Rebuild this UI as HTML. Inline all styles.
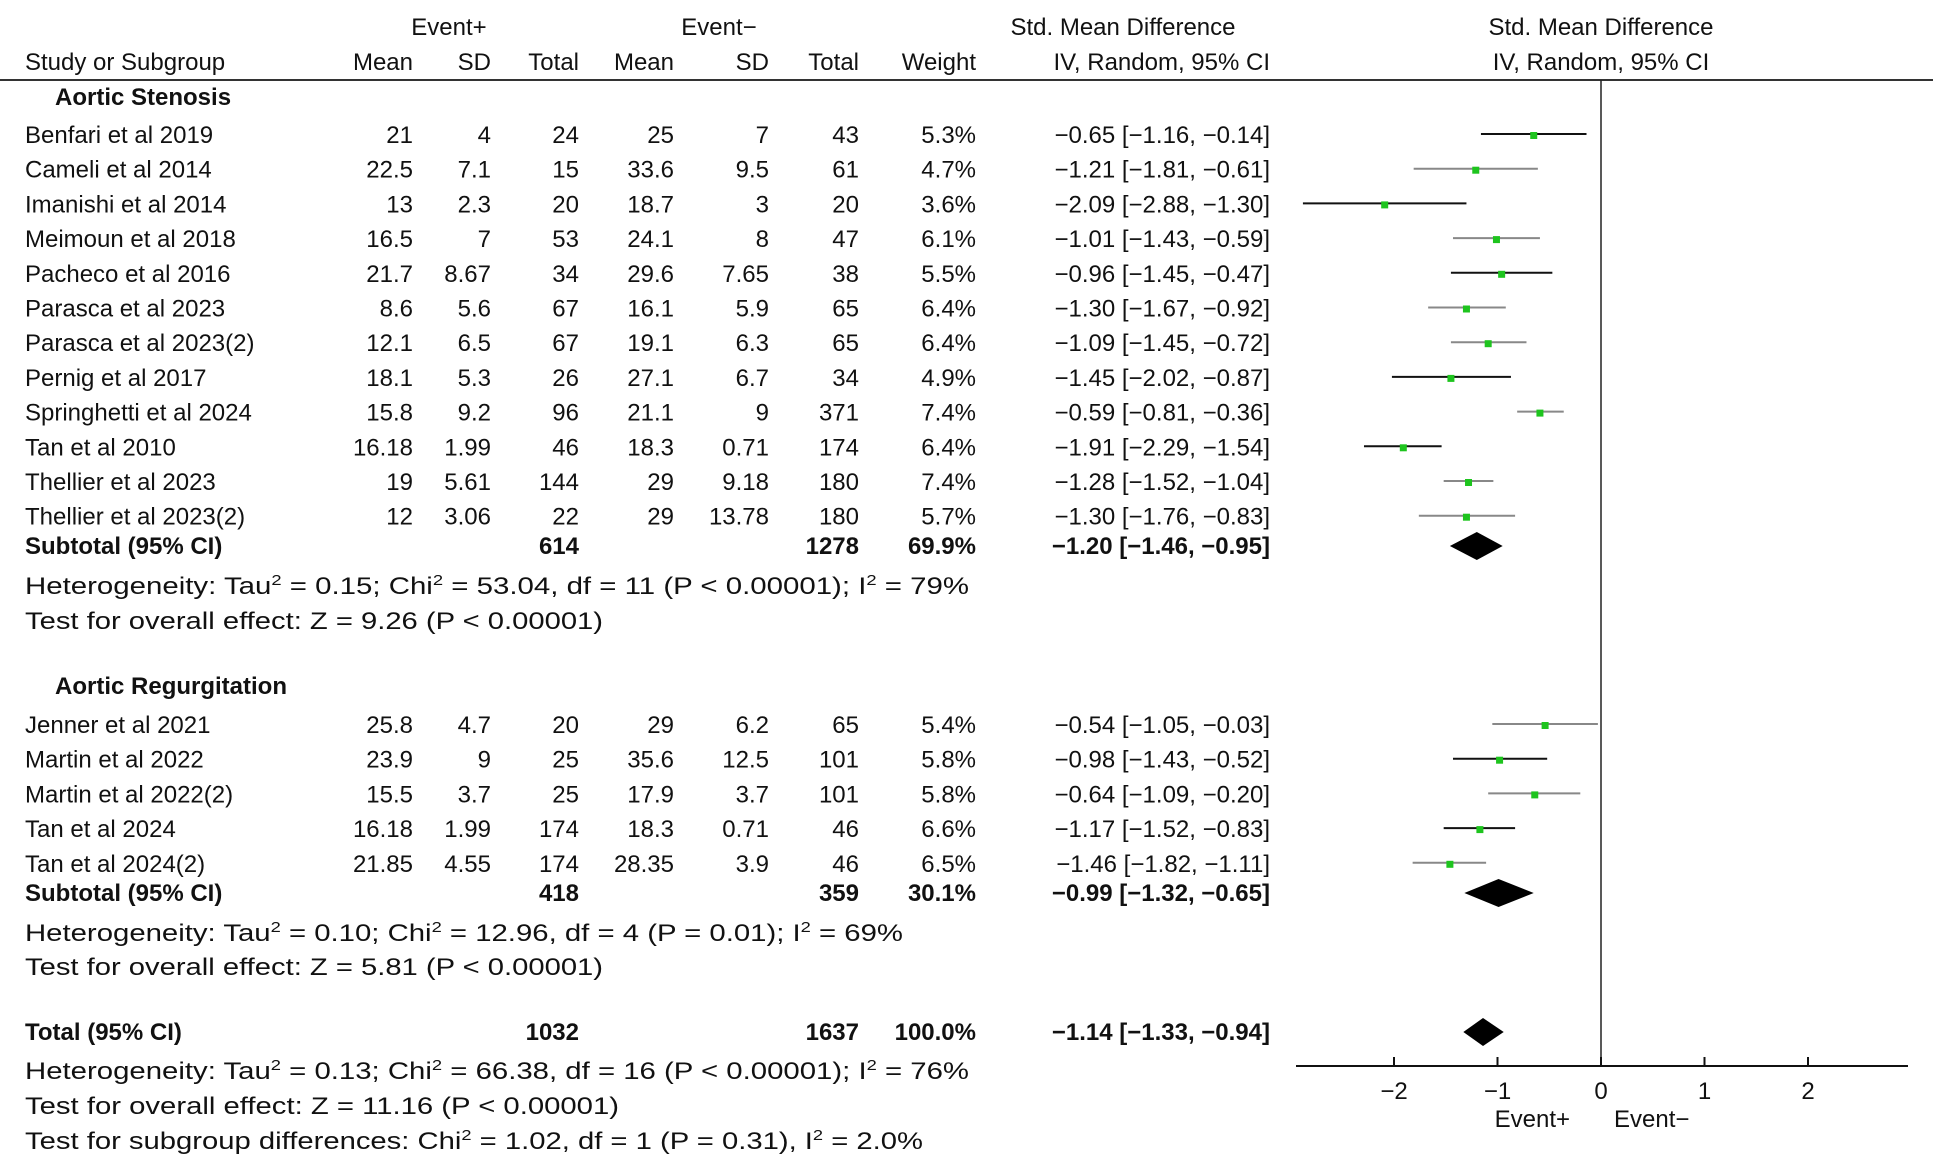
<!DOCTYPE html>
<html><head><meta charset="utf-8"><style>
html,body{margin:0;padding:0;background:#fff;}
svg{display:block;font-family:"Liberation Sans",sans-serif;}
text{font-size:24px;fill:#111;}
.b{font-weight:bold;}
</style></head><body>
<svg id="svg" width="1943" height="1169" viewBox="0 0 1943 1169">
<g id="g"></g>
</svg>
<script>
const studies=["Benfari et al 2019","Cameli et al 2014","Imanishi et al 2014","Meimoun et al 2018","Pacheco et al 2016","Parasca et al 2023","Parasca et al 2023(2)","Pernig et al 2017","Springhetti et al 2024","Tan et al 2010","Thellier et al 2023","Thellier et al 2023(2)","Jenner et al 2021","Martin et al 2022","Martin et al 2022(2)","Tan et al 2024","Tan et al 2024(2)"];
const group=[0,0,0,0,0,0,0,0,0,0,0,0,1,1,1,1,1];
const meanP=["21","22.5","13","16.5","21.7","8.6","12.1","18.1","15.8","16.18","19","12","25.8","23.9","15.5","16.18","21.85"];
const sdP=["4","7.1","2.3","7","8.67","5.6","6.5","5.3","9.2","1.99","5.61","3.06","4.7","9","3.7","1.99","4.55"];
const totP=["24","15","20","53","34","67","67","26","96","46","144","22","20","25","25","174","174"];
const meanN=["25","33.6","18.7","24.1","29.6","16.1","19.1","27.1","21.1","18.3","29","29","29","35.6","17.9","18.3","28.35"];
const sdN=["7","9.5","3","8","7.65","5.9","6.3","6.7","9","0.71","9.18","13.78","6.2","12.5","3.7","0.71","3.9"];
const totN=["43","61","20","47","38","65","65","34","371","174","180","180","65","101","101","46","46"];
const weight=["5.3%","4.7%","3.6%","6.1%","5.5%","6.4%","6.4%","4.9%","7.4%","6.4%","7.4%","5.7%","5.4%","5.8%","5.8%","6.6%","6.5%"];
const smd=[-0.65,-1.21,-2.09,-1.01,-0.96,-1.30,-1.09,-1.45,-0.59,-1.91,-1.28,-1.30,-0.54,-0.98,-0.64,-1.17,-1.46];
const lo=[-1.16,-1.81,-2.88,-1.43,-1.45,-1.67,-1.45,-2.02,-0.81,-2.29,-1.52,-1.76,-1.05,-1.43,-1.09,-1.52,-1.82];
const hi=[-0.14,-0.61,-1.30,-0.59,-0.47,-0.92,-0.72,-0.87,-0.36,-1.54,-1.04,-0.83,-0.03,-0.52,-0.20,-0.83,-1.11];
const lineGray=[0,1,0,1,0,1,1,0,1,0,1,1,1,0,1,0,1];
const sumLabels=["Subtotal (95% CI)","Subtotal (95% CI)","Total (95% CI)"];
const sumTotP=["614","418","1032"];
const sumTotN=["1278","359","1637"];
const sumW=["69.9%","30.1%","100.0%"];
const sumEst=[-1.20,-0.99,-1.14];
const sumLo=[-1.46,-1.32,-1.33];
const sumHi=[-0.95,-0.65,-0.94];
const ticks=[-2,-1,0,1,2];

const NS="http://www.w3.org/2000/svg";
const g=document.getElementById('g');
const X=v=>1601+v*103.5;
function el(tag,attrs,txt){const e=document.createElementNS(NS,tag);for(const k in attrs)e.setAttribute(k,attrs[k]);if(txt!==undefined)e.textContent=txt;g.appendChild(e);return e;}
function t(x,y,s,anchor,cls,len){const a={x:x,y:y};if(anchor)a['text-anchor']=anchor;if(cls)a['class']=cls;if(len){a.textLength=len;a.lengthAdjust='spacingAndGlyphs';}return el('text',a,s);}
const fmt=v=>(v<0?"\u2212":"")+Math.abs(v).toFixed(2);
const ci=(e,l,h)=>fmt(e)+" ["+fmt(l)+", "+fmt(h)+"]";
const cols=[413,491,579,674,769,859,976];

let h;
h=t(449,35,"Event+","middle");
h=t(719,35,"Event\u2212","middle");
h=t(1123,35,"Std. Mean Difference","middle");
h=t(1601,35,"Std. Mean Difference","middle");
h=t(25,70,"Study or Subgroup");
["Mean","SD","Total","Mean","SD","Total","Weight"].forEach((s,i)=>{const e=t(cols[i],70,s,"end");});
h=t(1270,70,"IV, Random, 95% CI","end");
h=t(1601,70,"IV, Random, 95% CI","middle");
h=el('line',{x1:0,y1:80,x2:1933,y2:80,stroke:'#333','stroke-width':2});
h=el('line',{x1:X(0),y1:80,x2:X(0),y2:1066,stroke:'#222','stroke-width':1.5});

h=t(55,105,"Aortic Stenosis",null,"b");
h=t(55,694,"Aortic Regurgitation",null,"b");

const rowY=i=>group[i]===0?143+i*34.7:733+(i-12)*34.7;
studies.forEach((s,i)=>{
  const y=rowY(i);
  let e=t(25,y,s);
  [meanP[i],sdP[i],totP[i],meanN[i],sdN[i],totN[i],weight[i]].forEach((v,j)=>{const c=t(cols[j],y,v,"end");});
  e=t(1270,y,ci(smd[i],lo[i],hi[i]),"end");
  const ly=y-9;
  e=el('line',{x1:X(lo[i]),y1:ly,x2:X(hi[i]),y2:ly,stroke:lineGray[i]?'#888':'#111','stroke-width':2});
  
  
  e=el('rect',{x:X(smd[i])-3.5,y:ly-2,width:7,height:7,fill:'#1ec41e'});
  
  
});

const sumY=[554,901,1040];
sumLabels.forEach((s,k)=>{
  const y=sumY[k];
  let e=t(25,y,s,null,"b");
  e=t(cols[2],y,sumTotP[k],"end","b");
  e=t(cols[5],y,sumTotN[k],"end","b");
  e=t(cols[6],y,sumW[k],"end","b");
  e=t(1270,y,ci(sumEst[k],sumLo[k],sumHi[k]),"end","b");
  const cy=y-8,hh=14;
  e=el('polygon',{points:`${X(sumLo[k])},${cy} ${X(sumEst[k])},${cy-hh} ${X(sumHi[k])},${cy} ${X(sumEst[k])},${cy+hh}`,fill:'#000'});
  
  
});

function sup(x,y,parts,len,name){
  const e=t(x,y,"",null,null,len);
  
  parts.forEach(p=>{const s=document.createElementNS(NS,'tspan');s.textContent=p[0];if(p[1]){s.setAttribute('font-size','15');s.setAttribute('dy','-9');}else if(p[2]){s.setAttribute('dy','9');}e.appendChild(s);});
}
function het(y,tau,chi,df,p,i2,len){
  sup(25,y,[["Heterogeneity: Tau"],["2",1],[" = "+tau+"; Chi",0,1],["2",1],[" = "+chi+", df = "+df+" (P "+p+"); I",0,1],["2",1],[" = "+i2,0,1]],len,'heterogeneity-text');
}
het(594,"0.15","53.04","11","< 0.00001","79%",944);
h=t(25,629,"Test for overall effect: Z = 9.26 (P < 0.00001)",null,null,578);
het(941,"0.10","12.96","4","= 0.01","69%",878);
h=t(25,975,"Test for overall effect: Z = 5.81 (P < 0.00001)",null,null,578);
het(1079,"0.13","66.38","16","< 0.00001","76%",944);
h=t(25,1114,"Test for overall effect: Z = 11.16 (P < 0.00001)",null,null,594);
sup(25,1149,[["Test for subgroup differences: Chi"],["2",1],[" = 1.02, df = 1 (P = 0.31), I",0,1],["2",1],[" = 2.0%",0,1]],898,'subgroup-difference-text');

h=el('line',{x1:1296,y1:1066,x2:1908,y2:1066,stroke:'#111','stroke-width':2});
ticks.forEach(v=>{
  let e=el('line',{x1:X(v),y1:1057,x2:X(v),y2:1066,stroke:'#111','stroke-width':2});
  
  
  e=t(X(v),1099,(v<0?"\u2212":"")+Math.abs(v),"middle");
  
  
});
h=t(1570,1127,"Event+","end");
h=t(1614,1127,"Event\u2212","start");
</script>
</body></html>
